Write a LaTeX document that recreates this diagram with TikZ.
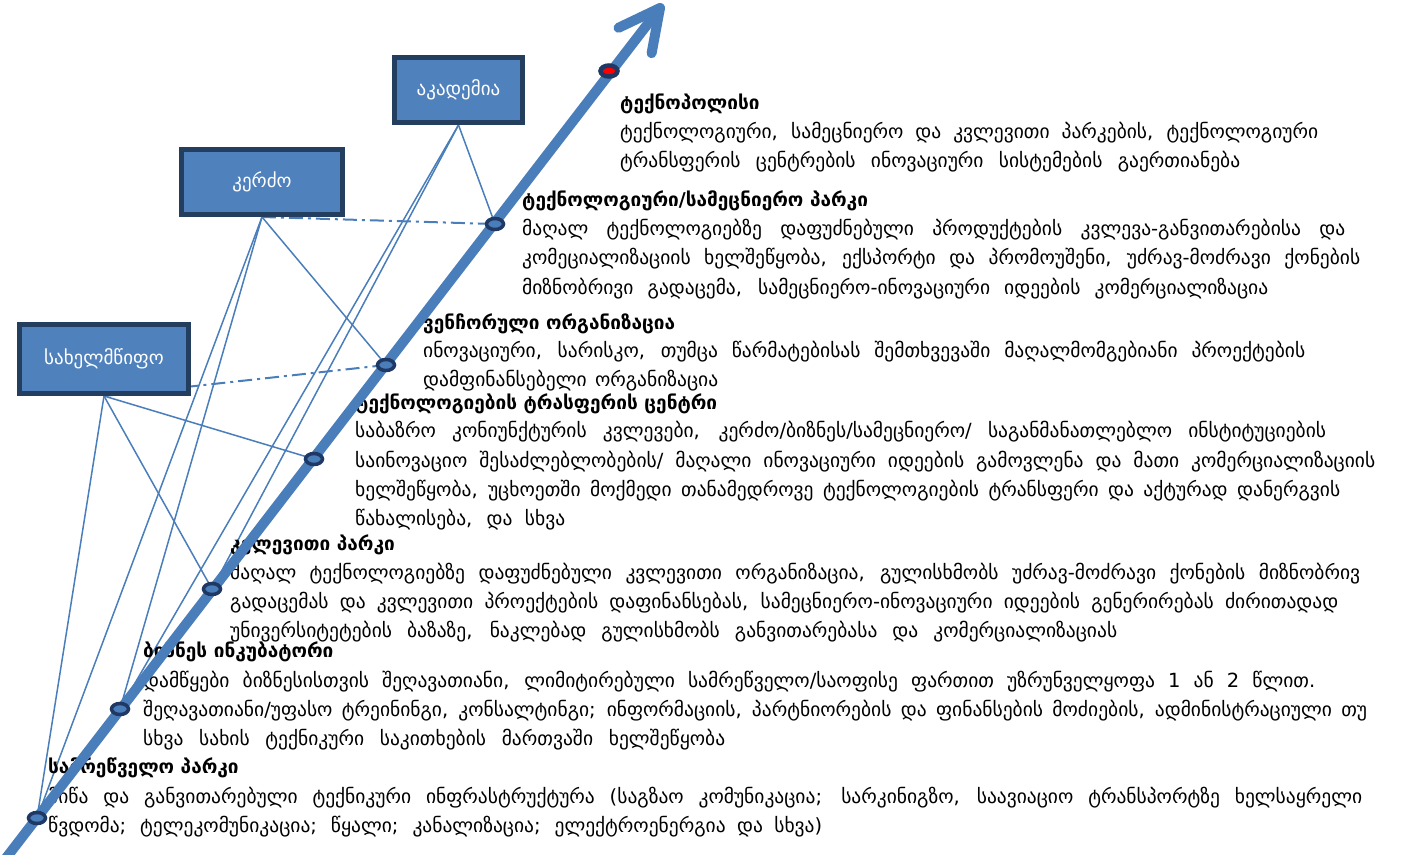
\documentclass[tikz,border=0pt]{standalone}
\usepackage{fontspec}
\setmainfont{DejaVu Sans}
\usetikzlibrary{shapes.geometric}
\pgfdeclarelayer{bg}
\pgfsetlayers{bg,main}
\definecolor{ablue}{RGB}{74,126,187}
\definecolor{boxfill}{RGB}{79,129,189}
\definecolor{boxnavy}{RGB}{36,62,96}
\definecolor{dotnavy}{RGB}{31,56,100}
\newcommand{\JL}[2]{\makebox[#1pt][s]{#2}}
\tikzset{
  tl/.style={anchor=base west, inner sep=0pt, font=\fontsize{19.5}{22}\selectfont},
  tt/.style={anchor=base west, inner sep=0pt, font=\fontsize{19}{22}\selectfont\bfseries},
  sector/.style={draw=boxnavy, line width=5pt, fill=boxfill, text=white, inner sep=0pt,
    font=\fontsize{19}{22}\selectfont},
  stage/.style={ellipse, draw=dotnavy, line width=3.5pt, fill=ablue, inner sep=0pt,
    minimum width=17pt, minimum height=11pt},
  topstage/.style={stage, fill=red, line width=4.5pt},
  link/.style={draw=ablue, line width=1.5pt},
  dashlink/.style={draw=ablue, line width=2pt, dash pattern=on 14pt off 5pt on 3pt off 5pt},
  axis/.style={draw=ablue, line width=10pt, line cap=round, line join=round}
}
\begin{document}
\begin{tikzpicture}[x=1pt,y=-1pt]
\useasboundingbox (0,0) rectangle (1415,854);

% --- texts ---
\node[tt] (h7) at (620,109) {ტექნოპოლისი};
\node[tl] (t7a) at (620,138) {\JL{698}{ტექნოლოგიური, სამეცნიერო და კვლევითი პარკების, ტექნოლოგიური}};
\node[tl] (t7b) at (620,167) {\JL{620}{ტრანსფერის ცენტრების ინოვაციური სისტემების გაერთიანება}};

\node[tt] (h6) at (522,206) {ტექნოლოგიური/სამეცნიერო პარკი};
\node[tl] (t6a) at (522,235) {\JL{823}{მაღალ ტექნოლოგიებზე დაფუძნებული პროდუქტების კვლევა-განვითარებისა და}};
\node[tl] (t6b) at (522,264) {\JL{838}{კომეციალიზაციის ხელშეწყობა, ექსპორტი და პრომოუშენი, უძრავ-მოძრავი ქონების}};
\node[tl] (t6c) at (522,294) {\JL{746}{მიზნობრივი გადაცემა, სამეცნიერო-ინოვაციური იდეების კომერციალიზაცია}};

\node[tt] (h5) at (423,329) {ვენჩორული ორგანიზაცია};
\node[tl] (t5a) at (423,357) {\JL{882}{ინოვაციური, სარისკო, თუმცა წარმატებისას შემთხვევაში მაღალმომგებიანი პროექტების}};
\node[tl] (t5b) at (423,386) {\JL{295}{დამფინანსებელი ორგანიზაცია}};

\node[tt] (h4) at (355,409) {ტექნოლოგიების ტრასფერის ცენტრი};
\node[tl] (t4a) at (355,437) {\JL{971}{საბაზრო კონიუნქტურის კვლევები, კერძო/ბიზნეს/სამეცნიერო/ საგანმანათლებლო ინსტიტუციების}};
\node[tl] (t4b) at (355,467) {\JL{1020}{საინოვაციო შესაძლებლობების/ მაღალი ინოვაციური იდეების გამოვლენა და მათი კომერციალიზაციის}};
\node[tl] (t4c) at (355,496) {\JL{985}{ხელშეწყობა, უცხოეთში მოქმედი თანამედროვე ტექნოლოგიების ტრანსფერი და აქტურად დანერგვის}};
\node[tl] (t4d) at (355,525) {\JL{210}{წახალისება, და სხვა}};

\node[tt] (h3) at (230,550) {კვლევითი პარკი};
\node[tl] (t3a) at (230,579) {\JL{1130}{მაღალ ტექნოლოგიებზე დაფუძნებული კვლევითი ორგანიზაცია, გულისხმობს უძრავ-მოძრავი ქონების მიზნობრივ}};
\node[tl] (t3b) at (230,608) {\JL{1108}{გადაცემას და კვლევითი პროექტების დაფინანსებას, სამეცნიერო-ინოვაციური იდეების გენერირებას ძირითადად}};
\node[tl] (t3c) at (230,637) {\JL{887}{უნივერსიტეტების ბაზაზე, ნაკლებად გულისხმობს განვითარებასა და კომერციალიზაციას}};

\node[tt] (h2) at (143,657) {ბიზნეს ინკუბატორი};
\node[tl] (t2a) at (143,687) {\JL{1172}{დამწყები ბიზნესისთვის შეღავათიანი, ლიმიტირებული სამრეწველო/საოფისე ფართით უზრუნველყოფა 1 ან 2 წლით.}};
\node[tl] (t2b) at (143,716) {\JL{1224}{შეღავათიანი/უფასო ტრეინინგი, კონსალტინგი; ინფორმაციის, პარტნიორების და ფინანსების მოძიების, ადმინისტრაციული თუ}};
\node[tl] (t2c) at (143,745) {\JL{582}{სხვა სახის ტექნიკური საკითხების მართვაში ხელშეწყობა}};

\node[tt] (h1) at (48,773) {სამრეწველო პარკი};
\node[tl] (t1a) at (48,803) {\JL{1314}{მიწა და განვითარებული ტექნიკური ინფრასტრუქტურა (საგზაო კომუნიკაცია; სარკინიგზო, საავიაციო ტრანსპორტზე ხელსაყრელი}};
\node[tl] (t1b) at (48,832) {\JL{774}{წვდომა; ტელეკომუნიკაცია; წყალი; კანალიზაცია; ელექტროენერგია და სხვა)}};

% --- main axis ---
\coordinate (tail) at (3,862);
\coordinate (tip) at (660,8);
\coordinate (barbL) at (618.5,27.8);
\coordinate (barbR) at (651.6,53.2);
\draw[axis] (tail) -- (tip);
\draw[axis] (barbL) -- (tip) -- (barbR);

% --- sector boxes ---
\node[sector, minimum width=128pt, minimum height=65pt] (acad) at (458.5,90) {აკადემია};
\node[sector, minimum width=161pt, minimum height=65pt] (priv) at (262,182) {კერძო};
\node[sector, minimum width=169pt, minimum height=69pt] (state) at (104,359) {სახელმწიფო};

% --- stage dots ---
\node[stage] (d1) at (37,818) {};
\node[stage] (d2) at (120,709) {};
\node[stage] (d3) at (212,589) {};
\node[stage] (d4) at (314,459) {};
\node[stage] (d5) at (386,365) {};
\node[stage] (d6) at (495,224) {};
\node[topstage] (d7) at (609,71) {};

% --- connectors ---
\begin{pgfonlayer}{bg}
\draw[link] (state.south) -- (d1.center);
\draw[link] (state.south) -- (d3.center);
\draw[link] (state.south) -- (d4.center);
\draw[dashlink] (state.south) -- (d5.center);
\draw[link] (priv.south) -- (d1.center);
\draw[link] (priv.south) -- (d2.center);
\draw[link] (priv.south) -- (d5.center);
\draw[dashlink] (priv.south) -- (d6.center);
\draw[link] (acad.south) -- (d2.center);
\draw[link] (acad.south) -- (d3.center);
\draw[link] (acad.south) -- (d6.center);
\end{pgfonlayer}
\end{tikzpicture}
\end{document}
